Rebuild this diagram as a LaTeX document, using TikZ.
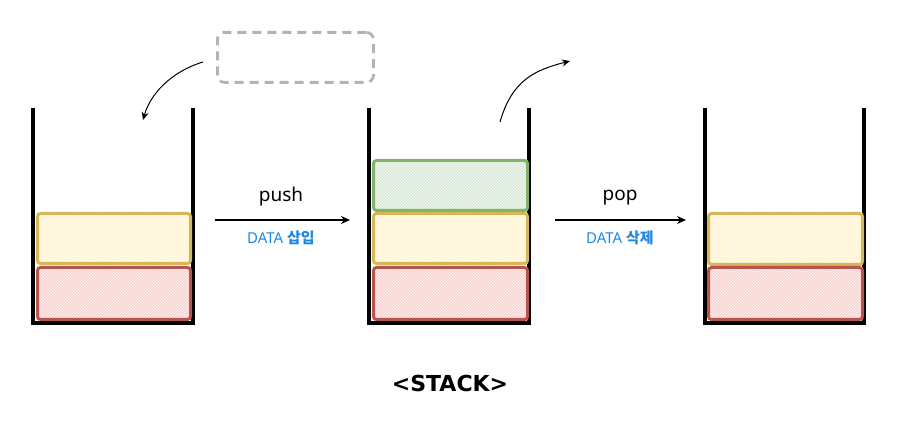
\documentclass[tikz,border=0pt]{standalone}
\usepackage{fontspec}
\setmainfont{Noto Sans}
\newfontfamily\kofont{Noto Sans CJK KR}
\newfontfamily\titlefont{DejaVu Sans}
\usetikzlibrary{arrows.meta,patterns}
\definecolor{ystroke}{HTML}{D6B656}
\definecolor{yfill}{HTML}{FFF2CC}
\definecolor{rstroke}{HTML}{B85450}
\definecolor{rfill}{HTML}{F8CECC}
\definecolor{gstroke}{HTML}{82B366}
\definecolor{gfill}{HTML}{D5E8D4}
\definecolor{dblue}{HTML}{1E88E5}
\definecolor{dgray}{HTML}{B3B3B3}
\tikzset{
  wall/.style={line width=4.5pt, line cap=butt, line join=miter},
  databox/.style 2 args={preaction={fill=#2}, preaction={pattern=north east lines, pattern color=white},
     draw=#1, line width=3pt, rounded corners=3pt},
  ybox/.style={databox={ystroke}{yfill}},
  rbox/.style={databox={rstroke}{rfill}},
  gbox/.style={databox={gstroke}{gfill}},
  harrow/.style={line width=1.8pt, -{Stealth[length=9pt,width=8pt]}},
  carrow/.style={line width=1pt, -{Stealth[length=8pt,width=7pt]}},
  lbl/.style={font=\fontsize{19}{22}\selectfont},
  sub/.style={text=dblue, font=\fontsize{15}{18}\selectfont},
}
\begin{document}
\begin{tikzpicture}[x=1pt,y=-1pt]
\useasboundingbox (0,0) rectangle (898,446);
% containers
\draw[wall] (33,108) -- (33,323) -- (193,323) -- (193,108);
\draw[wall] (369,108) -- (369,323) -- (529,323) -- (529,108);
\draw[wall] (705,108) -- (705,323) -- (864,323) -- (864,108);
% container 1
\node[ybox, minimum width=153pt, minimum height=50pt, anchor=north west] (y1) at (36,212) {};
\node[rbox, minimum width=153pt, minimum height=52pt, anchor=north west] (r1) at (36,266) {};
% container 2
\node[gbox, minimum width=154pt, minimum height=50pt, anchor=north west] (g2) at (372,159) {};
\node[ybox, minimum width=154pt, minimum height=50pt, anchor=north west] (y2) at (372,212) {};
\node[rbox, minimum width=154pt, minimum height=52pt, anchor=north west] (r2) at (372,266) {};
% container 3
\node[ybox, minimum width=154pt, minimum height=51pt, anchor=north west] (y3) at (707,212) {};
\node[rbox, minimum width=154pt, minimum height=52pt, anchor=north west] (r3) at (707,266) {};
% push / pop arrows
\coordinate (pa) at (215,220);
\coordinate (pb) at (350,220);
\draw[harrow] (pa) -- (pb);
\node[lbl] (push) at (281,197) {push};
\node[sub] (dpush) at (281,238) {DATA {\kofont\bfseries 삽입}};
\coordinate (qa) at (555,220);
\coordinate (qb) at (686,220);
\draw[harrow] (qa) -- (qb);
\node[lbl] (pop) at (620,198) {pop};
\node[sub] (dpop) at (620,238) {DATA {\kofont\bfseries 삭제}};
% dashed box
\node[draw=dgray, line width=2.8pt, dash pattern=on 9pt off 6pt, rounded corners=7pt,
      minimum width=156pt, minimum height=50pt, anchor=north west] (db) at (216,31) {};
% curved arrows
\coordinate (c1a) at (203,62);
\coordinate (c1b) at (143,120);
\draw[carrow] (c1a) .. controls (170,72) and (150,95) .. (c1b);
\coordinate (c2a) at (500,122);
\coordinate (c2b) at (570,61);
\draw[carrow] (c2a) .. controls (512,80) and (535,70) .. (c2b);
% title
\node[font=\titlefont\bfseries\fontsize{22}{26}\selectfont] (title) at (450,383) {<STACK>};
\end{tikzpicture}
\end{document}
